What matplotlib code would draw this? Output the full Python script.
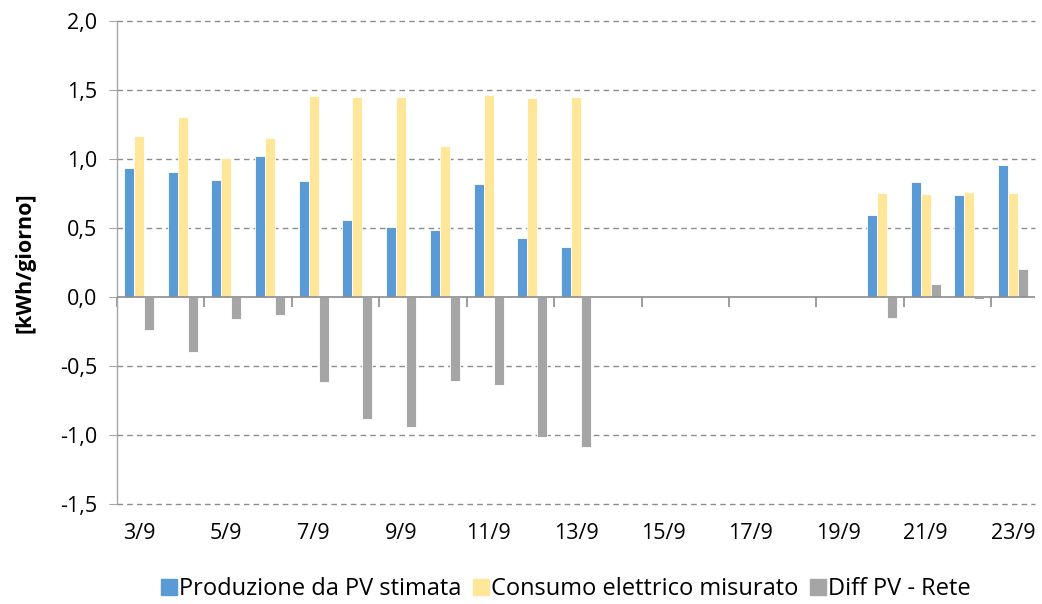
import numpy as np
import matplotlib
matplotlib.use("Agg")
import matplotlib.pyplot as plt
from matplotlib.lines import Line2D

days = [f"{d}/9" for d in range(3, 24)]
produzione = [0.935, 0.905, 0.85, 1.02, 0.84, 0.555, 0.51, 0.485, 0.82, 0.43, 0.36,
              np.nan, np.nan, np.nan, np.nan, np.nan, np.nan,
              0.595, 0.833, 0.74, 0.957]
consumo = [1.167, 1.305, 1.005, 1.152, 1.457, 1.45, 1.45, 1.092, 1.464, 1.44, 1.447,
           np.nan, np.nan, np.nan, np.nan, np.nan, np.nan,
           0.751, 0.744, 0.759, 0.756]
diff = [-0.239, -0.40, -0.159, -0.13, -0.616, -0.884, -0.942, -0.606, -0.637, -1.014, -1.087,
        np.nan, np.nan, np.nan, np.nan, np.nan, np.nan,
        -0.155, 0.092, -0.015, 0.20]
labels = ["Produzione da PV stimata", "Consumo elettrico misurato", "Diff PV - Rete"]
colors = ["#5B9BD5", "#FFE699", "#A5A5A5"]
yticks = [-1.5, -1.0, -0.5, 0.0, 0.5, 1.0, 1.5, 2.0]

plt.rcParams['font.family'] = ['Open Sans', 'DejaVu Sans']

fig = plt.figure(figsize=(10.42, 6.04), dpi=100)
ax = fig.add_axes([0.1123, 0.1656, 0.8810, 0.7996])

x = np.arange(len(days))
w = 0.228
for i, (vals, c) in enumerate(zip([produzione, consumo, diff], colors)):
    ax.bar(x + (i - 1) * w, vals, width=w, color=c, edgecolor='white', linewidth=0.6,
           label=labels[i], zorder=3)

ax.set_xlim(-0.5, len(days) - 0.5)
ax.set_ylim(-1.5, 2.0)
ax.set_yticks(yticks)
ax.set_yticklabels([f"{v:.1f}".replace('.', ',') for v in yticks], fontsize=15.5)
for v in yticks:
    if v != 0:
        ax.axhline(v, color='#8c8c8c', linestyle=(0, (4, 3)), linewidth=1.0, zorder=1,
                   clip_on=False)
ax.axhline(0, color='#8c8c8c', linewidth=1.2, zorder=4)

ax.set_xticks(x[::2])
ax.set_xticklabels(days[::2], fontsize=15.5)
ax.tick_params(axis='x', length=0, pad=14)
ax.tick_params(axis='y', length=6, color='#a6a6a6', direction='out', pad=8)

for s in ['top', 'right', 'bottom']:
    ax.spines[s].set_visible(False)
ax.spines['left'].set_color('#a6a6a6')
ax.spines['left'].set_linewidth(1.0)

# category boundary ticks at zero line
y0 = (0 - (-1.5)) / 3.5
sec = ax.secondary_xaxis(y0)
sec.set_xticks(np.arange(-0.5, len(days), 2))
sec.set_xticklabels([])
sec.tick_params(length=7, color='#8c8c8c', width=1.2, direction='out')
sec.spines['bottom'].set_visible(False)
sec.spines['top'].set_visible(False)

ax.set_ylabel("[kWh/giorno]", fontsize=15.5, fontweight='bold', labelpad=18)

handles = [Line2D([0], [0], marker='s', linestyle='none', markersize=11,
                  markerfacecolor=c, markeredgecolor=c) for c in colors]
fig.legend(handles, labels, loc='center', bbox_to_anchor=(0.543, 0.025), ncol=3,
           frameon=False, fontsize=17, handletextpad=0.05, columnspacing=0.45,
           handlelength=0.75)

fig.savefig("out.png", dpi=100)
